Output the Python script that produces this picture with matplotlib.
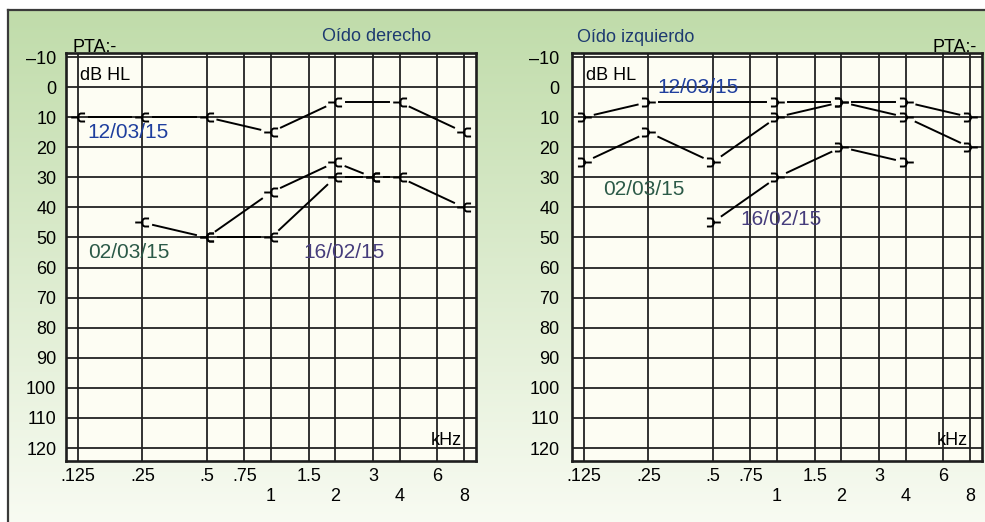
import numpy as np
import matplotlib
matplotlib.use('Agg')
import matplotlib.pyplot as plt
from matplotlib.path import Path

plt.rcParams['font.family'] = ['Liberation Sans', 'DejaVu Sans']

# Frequencies (kHz) and labels
FREQS = [0.125, 0.25, 0.5, 0.75, 1, 1.5, 2, 3, 4, 6, 8]
FREQ_LABELS = ['.125', '.25', '.5', '.75', '\n1', '1.5', '\n2', '3', '\n4', '6', '\n8']
DB_TICKS = list(range(-10, 121, 10))
DB_LABELS = ['\u201310'] + [str(v) for v in DB_TICKS[1:]]

# Oído derecho (right ear)
R_1203_F = [0.125, 0.25, 0.5, 1, 2, 4, 8]
R_1203_DB = [10, 10, 10, 15, 5, 5, 15]
R_0203_F = [0.25, 0.5, 1, 2, 3, 4, 8]
R_0203_DB = [45, 50, 35, 25, 30, 30, 40]
R_1602_F = [0.5, 1, 2, 3]
R_1602_DB = [50, 50, 30, 30]

# Oído izquierdo (left ear)
L_1203_F = [0.125, 0.25, 1, 2, 4, 8]
L_1203_DB = [10, 5, 5, 5, 5, 10]
L_0203_F = [0.125, 0.25, 0.5, 1, 2, 4, 8]
L_0203_DB = [25, 15, 25, 10, 5, 10, 20]
L_1602_F = [0.5, 1, 2, 4]
L_1602_DB = [45, 30, 20, 25]

C_1203 = '#1f3f9e'
C_0203 = '#2c5a48'
C_1602 = '#463d7c'
C_TITLE = '#1d3a70'

W, H = 985, 522
fig = plt.figure(figsize=(W / 100, H / 100), dpi=100)
fig.patch.set_facecolor('white')

# green gradient background with frame
bg = fig.add_axes([8 / W, 0, 1 - 8 / W, 1 - 10 / H], zorder=-10)
top = np.array([192, 220, 170]) / 255
bot = np.array([248, 251, 242]) / 255
t = np.linspace(0, 1, 256)[:, None]
grad = (top * (1 - t) + bot * t)[:, None, :]
bg.imshow(grad, aspect='auto', extent=[0, 1, 0, 1], origin='upper')
bg.set_xticks([])
bg.set_yticks([])
for s in ['right', 'bottom']:
    bg.spines[s].set_visible(False)
for s in ['top', 'left']:
    bg.spines[s].set_color('#3a3a3a')
    bg.spines[s].set_linewidth(1.6)

# bracket markers
_br = [(-1, 0), (0, 0), (0.9, 0.55), (0.3, 0.55), (0.1, 0.45), (0, 0.25),
       (0, -0.25), (0.1, -0.45), (0.3, -0.55), (0.9, -0.55)]
_codes = [Path.MOVETO, Path.LINETO, Path.MOVETO] + [Path.LINETO] * 7
RIGHT_MK = Path(_br, _codes)
LEFT_MK = Path([(-x, y) for x, y in _br], _codes)

GAP = 11  # px gap between line and marker

AX_W = 410 / W
AX_H = 408 / H
AX_B = 1 - 461 / H
oct_lo = -12 / 64.3


def setup(ax, pad_y):
    ax.set_facecolor('#fdfdf3')
    ax.set_xscale('log', base=2)
    ax.set_xlim(0.125 * 2 ** oct_lo, 8 * 2 ** (-oct_lo))
    ax.set_ylim(124.3, -11.33)
    ax.set_xticks(FREQS)
    ax.set_xticklabels(FREQ_LABELS, fontsize=13, va='top', linespacing=1.2)
    ax.xaxis.set_minor_locator(matplotlib.ticker.NullLocator())
    ax.set_yticks(DB_TICKS)
    ax.set_yticklabels(DB_LABELS, fontsize=13)
    ax.tick_params(axis='x', length=0, pad=5)
    ax.tick_params(axis='y', length=0, pad=pad_y)
    ax.grid(True, color='#222222', lw=1.3)
    ax.set_axisbelow(True)
    for s in ax.spines.values():
        s.set_linewidth(1.9)
        s.set_color('#1e1e1e')
    ax.text(0.035, 0.946, 'dB HL', transform=ax.transAxes, fontsize=13,
            va='center', ha='left')
    ax.text(0.966, 0.051, 'kHz', transform=ax.transAxes, fontsize=13,
            va='center', ha='right')


def draw_series(ax, freqs, vals, mk):
    ax.plot(freqs, vals, ls='none', marker=mk, ms=10.5, mfc='none',
            mec='black', mew=1.4, zorder=4)
    pts = ax.transData.transform(np.column_stack([freqs, vals]))
    inv = ax.transData.inverted()
    for p, q in zip(pts[:-1], pts[1:]):
        d = q - p
        u = d / np.hypot(*d)
        seg = inv.transform([p + u * GAP, q - u * GAP])
        ax.plot(seg[:, 0], seg[:, 1], color='black', lw=1.4, zorder=3)


axL = fig.add_axes([66 / W, AX_B, AX_W, AX_H])
axR = fig.add_axes([572 / W, AX_B, AX_W, AX_H])
setup(axL, 7)
setup(axR, 9)

# right ear panel
draw_series(axL, R_1203_F, R_1203_DB, RIGHT_MK)
draw_series(axL, R_0203_F, R_0203_DB, RIGHT_MK)
draw_series(axL, R_1602_F, R_1602_DB, RIGHT_MK)
axL.text(0.139, 15, '12/03/15', color=C_1203, fontsize=15, va='center')
axL.text(0.139, 55, '02/03/15', color=C_0203, fontsize=15, va='center')
axL.text(1.41, 55, '16/02/15', color=C_1602, fontsize=15, va='center')
axL.text(0.015, 1.003, 'PTA:-', transform=axL.transAxes, fontsize=13,
         va='baseline', ha='left')
axL.text(0.758, 1.04, 'Oído derecho', transform=axL.transAxes, fontsize=13,
         va='center', ha='center', color=C_TITLE)

# left ear panel
draw_series(axR, L_1203_F, L_1203_DB, LEFT_MK)
draw_series(axR, L_0203_F, L_0203_DB, LEFT_MK)
draw_series(axR, L_1602_F, L_1602_DB, LEFT_MK)
axR.text(0.275, 0.3, '12/03/15', color=C_1203, fontsize=15, va='center')
axR.text(0.154, 34.2, '02/03/15', color=C_0203, fontsize=15, va='center')
axR.text(0.673, 43.9, '16/02/15', color=C_1602, fontsize=15, va='center')
axR.text(0.988, 1.003, 'PTA:-', transform=axR.transAxes, fontsize=13,
         va='baseline', ha='right')
axR.text(0.012, 1.037, 'Oído izquierdo', transform=axR.transAxes,
         fontsize=13, va='center', ha='left', color=C_TITLE)

fig.savefig('out.png', dpi=100)
